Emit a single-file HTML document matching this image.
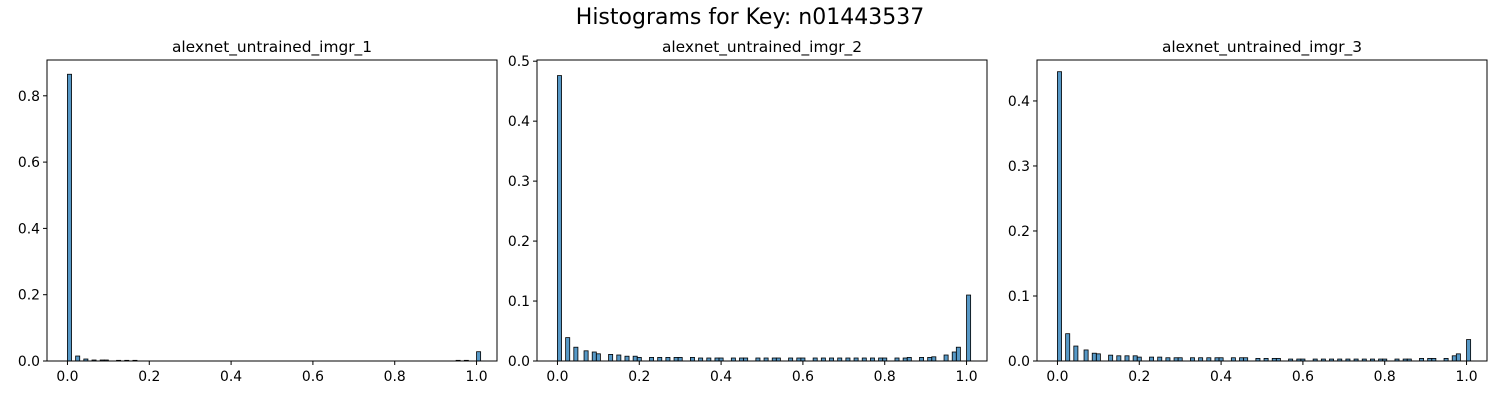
<!DOCTYPE html>
<html><head><meta charset="utf-8"><style>
body{margin:0;background:#fff;}
svg{display:block;font-family:"DejaVu Sans","Liberation Sans",sans-serif;}
</style></head><body>
<svg id="fig" width="1500" height="400">
<text x="750" y="24" text-anchor="middle" font-size="22">Histograms for Key: n01443537</text>
</svg>
<script>
// ---- data ----
const titles = ["alexnet_untrained_imgr_1","alexnet_untrained_imgr_2","alexnet_untrained_imgr_3"];
const bins1 = [0.0,0.02,0.04,0.06,0.08,0.09,0.12,0.14,0.16,0.95,0.97,1.0];
const vals1 = [0.865,0.015,0.006,0.003,0.003,0.003,0.002,0.002,0.002,0.002,0.002,0.028];
const bins2 = [0,0.02,0.04,0.065,0.085,0.095,0.125,0.145,0.165,0.185,0.195,0.225,0.245,0.265,0.285,0.295,0.325,0.345,0.365,0.385,0.395,0.425,0.445,0.455,0.485,0.505,0.525,0.535,0.565,0.585,0.595,0.625,0.645,0.665,0.685,0.705,0.725,0.745,0.765,0.785,0.795,0.825,0.845,0.855,0.885,0.905,0.915,0.945,0.965,0.975,1.0];
const vals2 = [0.476,0.039,0.023,0.017,0.015,0.012,0.011,0.01,0.008,0.008,0.006,0.006,0.006,0.006,0.006,0.006,0.006,0.005,0.005,0.005,0.005,0.005,0.005,0.005,0.005,0.005,0.005,0.005,0.005,0.005,0.005,0.005,0.005,0.005,0.005,0.005,0.005,0.005,0.005,0.005,0.005,0.005,0.005,0.006,0.006,0.006,0.007,0.01,0.015,0.023,0.11];
const vals3 = [0.445,0.042,0.023,0.017,0.012,0.011,0.009,0.008,0.008,0.008,0.006,0.006,0.006,0.005,0.005,0.005,0.005,0.005,0.005,0.005,0.005,0.005,0.005,0.005,0.004,0.004,0.004,0.004,0.003,0.003,0.003,0.003,0.003,0.003,0.003,0.003,0.003,0.003,0.003,0.003,0.003,0.003,0.003,0.003,0.004,0.004,0.004,0.004,0.008,0.011,0.033];
const yTicks1 = [0,0.2,0.4,0.6,0.8];
const yTicks2 = [0,0.1,0.2,0.3,0.4,0.5];
const yTicks3 = [0,0.1,0.2,0.3,0.4];
const xTicks = [0,0.2,0.4,0.6,0.8,1.0];

const panels = [
  {left:47, ymax:0.908, bins:bins1, vals:vals1, yt:yTicks1},
  {left:537, ymax:0.502, bins:bins2, vals:vals2, yt:yTicks2},
  {left:1037, ymax:0.463, bins:bins2, vals:vals3, yt:yTicks3}
];
const NS="http://www.w3.org/2000/svg";
const svg=document.getElementById('fig');
function mk(tag,attrs,parent){const e=document.createElementNS(NS,tag);for(const k in attrs)e.setAttribute(k,attrs[k]);(parent||svg).appendChild(e);return e;}
const plotTop=60,plotBottom=361,W=450;
panels.forEach((p,i)=>{
  const g=mk('g',{});
  
  
  const xs=v=>p.left+(v+0.05)/1.1*W;
  const ys=v=>plotBottom-v/p.ymax*(plotBottom-plotTop);
  const t=mk('text',{x:p.left+W/2,y:52,'text-anchor':'middle','font-size':15.4},g);
  t.textContent=titles[i];
  
  
  p.bins.forEach((b,j)=>{
    const x0=xs(b),x1=xs(b+0.01);
    const r=mk('rect',{x:x0,y:ys(p.vals[j]),width:x1-x0,height:plotBottom-ys(p.vals[j]),fill:'rgba(31,119,180,0.75)',stroke:'#000','stroke-width':0.8},g);
    
    
  });
  const f=mk('rect',{x:p.left,y:plotTop,width:W,height:plotBottom-plotTop,fill:'none',stroke:'#000','stroke-width':1},g);
  
  
  xTicks.forEach(v=>{
    const x=xs(v);
    mk('line',{x1:x,x2:x,y1:plotBottom,y2:plotBottom+4,stroke:'#000'},g);
    const l=mk('text',{x:x,y:plotBottom+20,'text-anchor':'middle','font-size':13.9},g);
    l.textContent=v.toFixed(1);
    
    
  });
  p.yt.forEach(v=>{
    const y=ys(v);
    mk('line',{x1:p.left-4,x2:p.left,y1:y,y2:y,stroke:'#000'},g);
    const l=mk('text',{x:p.left-7,y:y+5,'text-anchor':'end','font-size':13.9},g);
    l.textContent=v.toFixed(1);
    
    
  });
});
</script>
</body></html>
